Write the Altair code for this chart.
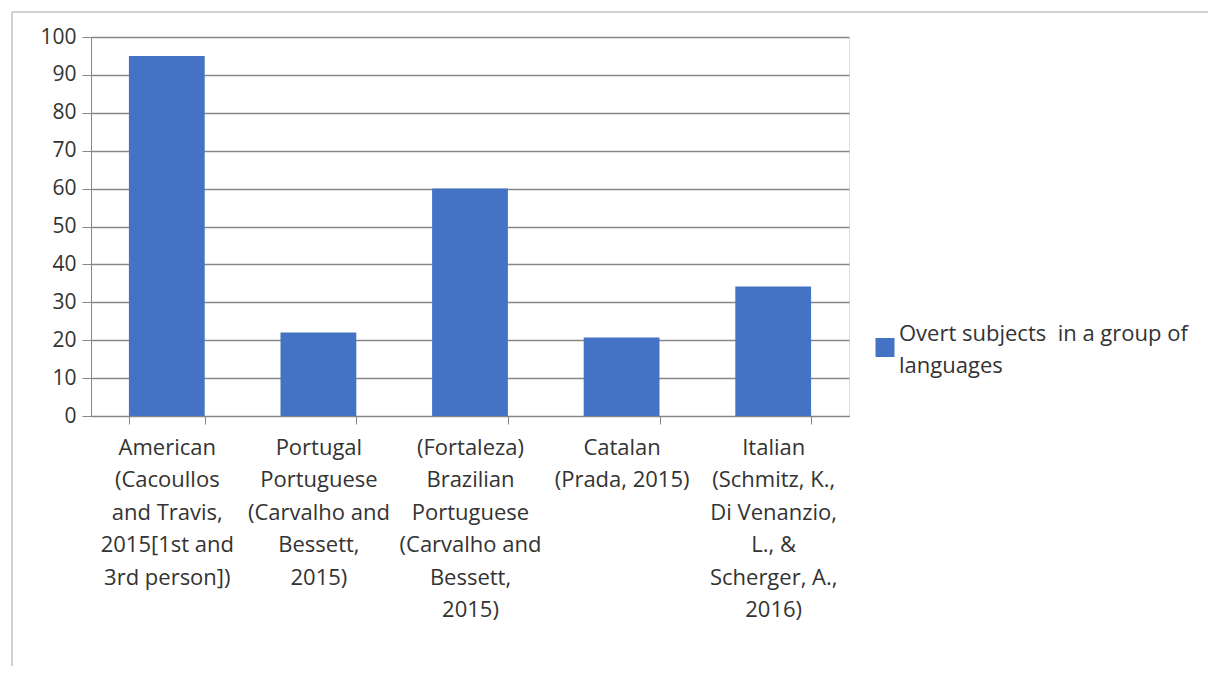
import altair as alt
import pandas as pd

categories = [
    "American|(Cacoullos|and Travis,|2015[1st and|3rd person])",
    "Portugal|Portuguese|(Carvalho and|Bessett,|2015)",
    "(Fortaleza)|Brazilian|Portuguese|(Carvalho and|Bessett,|2015)",
    "Catalan|(Prada, 2015)",
    "Italian|(Schmitz, K.,|Di Venanzio,|L., &|Scherger, A.,|2016)",
]
values = [95, 22, 60, 20.7, 34.2]
series_lines = ["Overt subjects\u00a0 in a group of", "languages"]
bar_color = "#4472C4"

df = pd.DataFrame({"category": categories, "value": values})
legend_df = pd.DataFrame({"label": [series_lines]})

FONT = "Open Sans"
TXT = "#333333"
GRID = "#878787"

bars = alt.Chart(df).mark_bar(color=bar_color).encode(
    x=alt.X(
        "category:N",
        sort=categories,
        title=None,
        scale=alt.Scale(paddingInner=0.5, paddingOuter=0.25),
        axis=alt.Axis(
            labelAngle=0,
            labelExpr="split(datum.label, '|')",
            labelFont=FONT,
            labelFontSize=22,
            labelColor=TXT,
            labelLineHeight=32.5,
            labelPadding=13,
            labelLimit=400,
            tickBand="extent",
            tickSize=8,
            tickColor=GRID,
            domainColor=GRID,
            grid=False,
        ),
    ),
    y=alt.Y(
        "value:Q",
        title=None,
        scale=alt.Scale(domain=[0, 100]),
        axis=alt.Axis(
            values=list(range(0, 101, 10)),
            labelFont=FONT,
            labelFontSize=21,
            labelColor=TXT,
            labelPadding=6,
            tickSize=9,
            tickColor=GRID,
            domainColor=GRID,
            gridColor=GRID,
            gridWidth=1.3,
        ),
    ),
)

legend_square = alt.Chart(legend_df).mark_square(
    color=bar_color, size=361, opacity=1
).encode(x=alt.value(794), y=alt.value(310.5))

legend_text = alt.Chart(legend_df).mark_text(
    align="left", baseline="alphabetic", font=FONT, fontSize=22,
    color=TXT, lineHeight=32,
).encode(x=alt.value(808), y=alt.value(304), text="label")

frame_left = alt.Chart(df).mark_rule(color="#d0d0d0", strokeWidth=1.5).encode(
    x=alt.value(-79), y=alt.value(-25), y2=alt.value(640)
)
frame_top = alt.Chart(df).mark_rule(color="#d0d0d0", strokeWidth=1.5).encode(
    x=alt.value(-79), x2=alt.value(1120), y=alt.value(-25)
)

chart = (
    alt.layer(frame_left, frame_top, bars, legend_square, legend_text)
    .properties(
        width=758,
        height=379,
        autosize=alt.AutoSizeParams(type="none"),
        padding={"left": 83, "top": 29, "right": 359, "bottom": 250},
    )
    .configure_view(stroke="#d9d9d9", strokeWidth=1)
    .configure(background="white")
)

chart.save("out.html", embed_options={"renderer": "svg", "actions": False})
